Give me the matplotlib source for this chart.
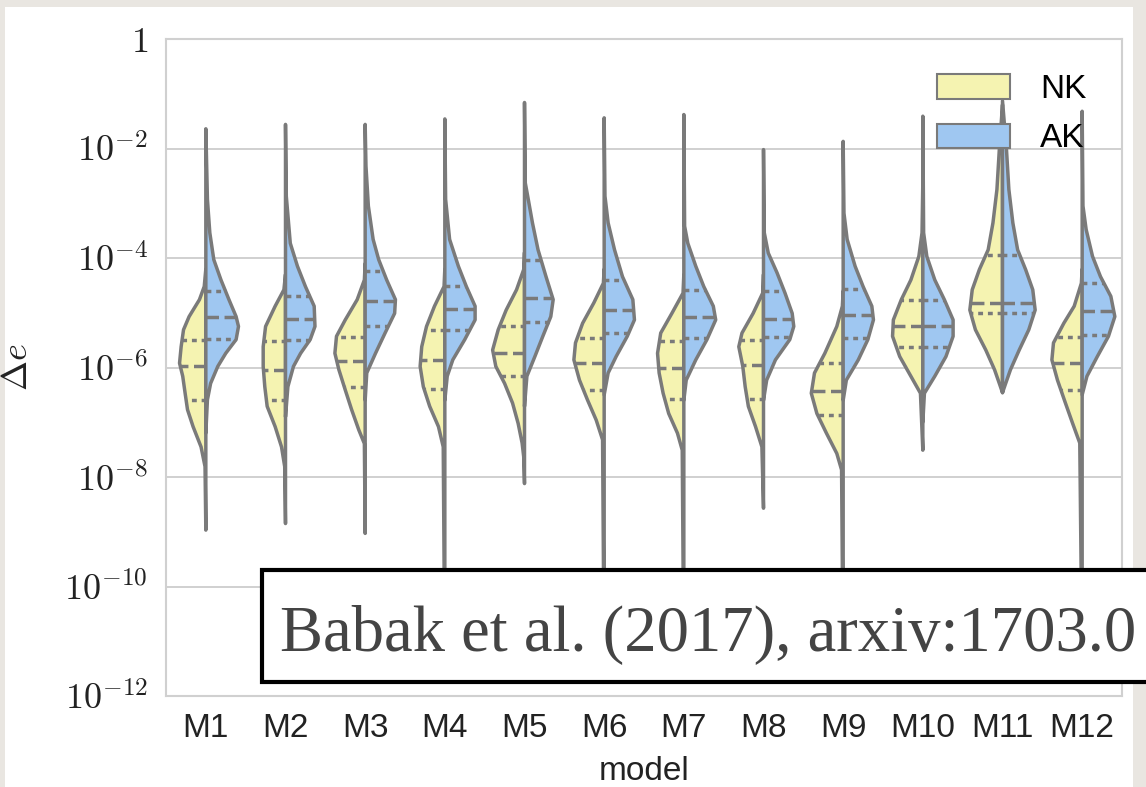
import numpy as np
import matplotlib
matplotlib.use("Agg")
import matplotlib.pyplot as plt
from matplotlib.patches import Patch, Rectangle
from matplotlib.ticker import FixedLocator, NullLocator

# values are log10(delta e)
MODELS = ["M1", "M2", "M3", "M4", "M5", "M6", "M7", "M8", "M9", "M10", "M11", "M12"]

NK_Q1 = [-6.59, -6.60, -6.36, -6.39, -6.16, -6.41, -6.57, -6.57, -6.87, -5.63, -5.01, -6.41]
NK_MED = [-5.98, -6.04, -5.89, -5.86, -5.74, -5.91, -6.00, -5.96, -6.43, -5.24, -4.82, -5.91]
NK_Q3 = [-5.49, -5.51, -5.45, -5.32, -5.25, -5.46, -5.51, -5.49, -5.91, -4.76, -3.94, -5.44]

AK_Q1 = [-5.48, -5.49, -5.25, -5.31, -5.16, -5.37, -5.47, -5.45, -5.47, -5.63, -5.01, -5.40]
AK_MED = [-5.08, -5.12, -4.78, -4.93, -4.73, -4.95, -5.07, -5.11, -5.05, -5.24, -4.82, -4.96]
AK_Q3 = [-4.61, -4.70, -4.24, -4.52, -4.03, -4.40, -4.59, -4.61, -4.56, -4.76, -3.94, -4.45]

# violin outlines: log10 levels (bottom to top) and half widths in category units
NK_LEVELS = [
	[-8.97, -7.81, -7.45, -7.08, -6.77, -6.47, -6.16, -5.92, -5.62, -5.31, -5.07, -4.76, -4.52, -4.20],
	[-8.85, -7.81, -7.45, -7.08, -6.71, -6.35, -5.98, -5.62, -5.25, -4.88, -4.58, -4.30],
	[-9.03, -7.39, -7.14, -6.77, -6.41, -6.04, -5.74, -5.43, -5.13, -4.76, -4.40, -4.10],
	[-11.5, -7.45, -7.08, -6.71, -6.35, -5.98, -5.62, -5.25, -4.88, -4.52, -4.20],
	[-8.12, -7.63, -7.38, -7.02, -6.65, -6.29, -5.98, -5.68, -5.31, -4.95, -4.58, -4.21, -3.90],
	[-11.5, -7.32, -6.96, -6.59, -6.23, -5.86, -5.55, -5.19, -4.82, -4.46, -4.20],
	[-11.5, -7.51, -7.20, -6.84, -6.47, -6.10, -5.74, -5.37, -5.01, -4.64, -4.30],
	[-8.57, -7.45, -7.08, -6.71, -6.35, -5.98, -5.62, -5.37, -5.01, -4.64, -4.30],
	[-11.5, -7.87, -7.57, -7.20, -6.84, -6.47, -6.10, -5.74, -5.25, -4.88, -4.60],
	[-7.51, -6.47, -6.16, -5.80, -5.43, -5.13, -4.76, -4.40, -3.97, -3.54, -2.60],
	[-6.46, -6.29, -6.04, -5.68, -5.31, -4.95, -4.58, -4.21, -3.85, -3.36, -2.75, -2.02, -1.20],
	[-11.5, -7.38, -7.02, -6.65, -6.23, -5.86, -5.55, -5.19, -4.88, -4.46, -4.20],
]
NK_WIDTHS = [
	[0, 0.01, 0.06, 0.16, 0.23, 0.26, 0.29, 0.33, 0.31, 0.28, 0.21, 0.08, 0.02, 0],
	[0, 0.01, 0.05, 0.13, 0.23, 0.26, 0.28, 0.28, 0.25, 0.13, 0.02, 0],
	[0, 0.01, 0.08, 0.17, 0.25, 0.33, 0.38, 0.36, 0.25, 0.10, 0.01, 0],
	[0, 0.02, 0.08, 0.19, 0.27, 0.31, 0.29, 0.23, 0.13, 0.01, 0],
	[0, 0.01, 0.03, 0.08, 0.15, 0.25, 0.36, 0.40, 0.33, 0.23, 0.10, 0.01, 0],
	[0, 0.02, 0.10, 0.21, 0.31, 0.38, 0.36, 0.27, 0.13, 0.01, 0],
	[0, 0.02, 0.08, 0.19, 0.26, 0.31, 0.33, 0.29, 0.15, 0.01, 0],
	[0, 0.02, 0.10, 0.19, 0.23, 0.26, 0.31, 0.27, 0.13, 0.01, 0],
	[0, 0.02, 0.08, 0.21, 0.33, 0.40, 0.36, 0.23, 0.08, 0.01, 0],
	[0, 0.03, 0.15, 0.29, 0.38, 0.37, 0.27, 0.15, 0.05, 0.01, 0],
	[0, 0.04, 0.10, 0.21, 0.34, 0.41, 0.38, 0.29, 0.18, 0.12, 0.07, 0.04, 0],
	[0, 0.03, 0.12, 0.21, 0.31, 0.38, 0.36, 0.23, 0.10, 0.01, 0],
]

AK_LEVELS = [
	[-7.20, -6.59, -6.29, -5.98, -5.74, -5.49, -5.25, -5.07, -4.76, -4.40, -4.03, -3.54, -2.93, -1.64],
	[-6.90, -6.35, -5.98, -5.74, -5.49, -5.25, -4.88, -4.52, -4.15, -3.73, -2.87, -1.56],
	[-6.60, -6.10, -5.74, -5.37, -5.01, -4.76, -4.40, -4.03, -3.66, -3.05, -2.32, -1.56],
	[-6.60, -6.16, -5.86, -5.49, -5.13, -4.88, -4.52, -4.15, -3.66, -2.93, -1.46],
	[-6.71, -6.16, -5.80, -5.43, -5.07, -4.76, -4.34, -3.85, -3.36, -2.87, -2.63, -1.16],
	[-6.50, -6.10, -5.80, -5.43, -5.13, -4.76, -4.34, -3.85, -3.36, -2.87, -1.44],
	[-6.60, -6.23, -5.86, -5.49, -5.13, -4.88, -4.52, -4.15, -3.73, -3.42, -1.38],
	[-6.60, -6.23, -5.86, -5.49, -5.25, -5.01, -4.64, -4.27, -3.91, -3.54, -2.02],
	[-6.60, -6.23, -5.86, -5.49, -5.13, -4.88, -4.52, -4.15, -3.66, -3.18, -1.87],
	[-7.00, -6.47, -6.16, -5.80, -5.43, -5.13, -4.76, -4.40, -3.97, -3.54, -1.41],
	[-6.46, -6.29, -6.04, -5.68, -5.31, -4.95, -4.58, -4.21, -3.85, -3.36, -2.75, -2.02, -1.13],
	[-6.50, -6.16, -5.80, -5.43, -5.07, -4.70, -4.34, -3.97, -3.48, -3.05, -1.32],
]
AK_WIDTHS = [
	[0, 0.02, 0.06, 0.15, 0.25, 0.38, 0.41, 0.38, 0.29, 0.19, 0.10, 0.05, 0.02, 0],
	[0, 0.03, 0.10, 0.19, 0.31, 0.37, 0.36, 0.25, 0.15, 0.06, 0.01, 0],
	[0, 0.02, 0.13, 0.25, 0.37, 0.38, 0.27, 0.17, 0.10, 0.04, 0.01, 0],
	[0, 0.03, 0.10, 0.25, 0.38, 0.38, 0.27, 0.17, 0.06, 0.01, 0],
	[0, 0.03, 0.13, 0.23, 0.33, 0.36, 0.27, 0.17, 0.10, 0.04, 0.01, 0],
	[0, 0.05, 0.15, 0.29, 0.38, 0.36, 0.23, 0.13, 0.05, 0.01, 0],
	[0, 0.03, 0.15, 0.29, 0.40, 0.37, 0.25, 0.15, 0.05, 0.01, 0],
	[0, 0.04, 0.15, 0.33, 0.38, 0.36, 0.27, 0.17, 0.06, 0.01, 0],
	[0, 0.04, 0.19, 0.31, 0.38, 0.36, 0.25, 0.15, 0.05, 0.01, 0],
	[0, 0.02, 0.15, 0.29, 0.38, 0.38, 0.27, 0.15, 0.05, 0.01, 0],
	[0, 0.04, 0.10, 0.21, 0.33, 0.41, 0.38, 0.29, 0.19, 0.13, 0.08, 0.05, 0],
	[0, 0.06, 0.19, 0.33, 0.41, 0.36, 0.23, 0.13, 0.05, 0.01, 0],
]

YTICK_EXP = [0, -2, -4, -6, -8, -10, -12]

NK_COLOR = "#f5f3b1"
AK_COLOR = "#9fc7f1"
EDGE = "#7a7a7a"
GRID = "#d0d0d0"
LW = 2.5

W, H = 1146, 787

plt.rcParams["mathtext.fontset"] = "cm"
plt.rcParams["font.family"] = ["Liberation Sans", "DejaVu Sans"]

fig = plt.figure(figsize=(W / 100, H / 100), dpi=100, facecolor="#e9e6e1")
fig.add_artist(Rectangle((5 / W, 0), (1133 - 5) / W, (H - 7) / H, transform=fig.transFigure,
						 facecolor="white", edgecolor="none", zorder=-10))

ax = fig.add_axes([166 / W, (H - 696) / H, (1122 - 166) / W, (696 - 39) / H])
ax.set_facecolor("white")
ax.set_axisbelow(True)


def draw_half(ax, x, levels, widths, q_vals, color, side):
	y = 10.0 ** np.asarray(levels)
	w = np.asarray(widths, dtype=float)
	xs = x + side * w
	ax.fill(xs, y, facecolor=color, edgecolor=EDGE, linewidth=LW, joinstyle="round", zorder=2)
	for q, dashes in zip(q_vals, [(1.4, 1.4), (3.6, 1.6), (1.4, 1.4)]):
		wq = np.interp(q, levels, widths)
		ax.plot([x, x + side * wq], [10.0 ** q] * 2, color=EDGE, linewidth=LW,
				dashes=dashes, solid_capstyle="butt", zorder=3)


for i, _ in enumerate(MODELS):
	draw_half(ax, i, NK_LEVELS[i], NK_WIDTHS[i], [NK_Q1[i], NK_MED[i], NK_Q3[i]], NK_COLOR, -1)
	draw_half(ax, i, AK_LEVELS[i], AK_WIDTHS[i], [AK_Q1[i], AK_MED[i], AK_Q3[i]], AK_COLOR, 1)

ax.set_yscale("log")
ax.set_ylim(1e-12, 1)
ax.set_xlim(-0.5, len(MODELS) - 0.5)
ax.yaxis.set_major_locator(FixedLocator([10.0 ** e for e in YTICK_EXP]))
ax.yaxis.set_minor_locator(NullLocator())
ax.set_yticklabels(["$1$" if e == 0 else rf"$10^{{{e}}}$" for e in YTICK_EXP])
ax.set_xticks(range(len(MODELS)))
ax.set_xticklabels(MODELS)
ax.tick_params(axis="y", length=0, pad=13, labelsize=26, labelcolor="#222222")
ax.tick_params(axis="x", length=0, pad=12, labelsize=24, labelcolor="#222222")
ax.grid(axis="y", color=GRID, linewidth=1.4)
for sp in ax.spines.values():
	sp.set_color(GRID)
	sp.set_linewidth(1.5)

ax.set_xlabel("model", fontsize=24, color="#222222", labelpad=9)
ax.set_ylabel(r"$\Delta e$", fontsize=26, color="#222222")
ax.yaxis.set_label_coords((35 - 166) / 956, 0.5)

handles = [Patch(facecolor=NK_COLOR, edgecolor=EDGE, linewidth=1.5),
		   Patch(facecolor=AK_COLOR, edgecolor=EDGE, linewidth=1.5)]
ax.legend(handles, ["NK", "AK"], loc="upper left", bbox_to_anchor=(937 / W, (H - 74) / H),
		  bbox_transform=fig.transFigure, frameon=False, fontsize=24, handlelength=2.2,
		  handleheight=0.75, labelspacing=0.55, handletextpad=0.9, borderpad=0, borderaxespad=0)

fig.add_artist(Rectangle((262 / W, (H - 682) / H), 1.0, 112 / H, transform=fig.transFigure,
						 facecolor="white", edgecolor="black", linewidth=3, zorder=5))
# the reference is cropped through this citation; sized so the last digit just fits
fig.text(280 / W, (H - 651) / H, "Babak et al. (2017), arxiv:1703.0", fontsize=46.5,
		 family="Liberation Serif", color="#444444", va="baseline", ha="left", zorder=6)

fig.savefig("out.png", dpi=100, facecolor=fig.get_facecolor())
